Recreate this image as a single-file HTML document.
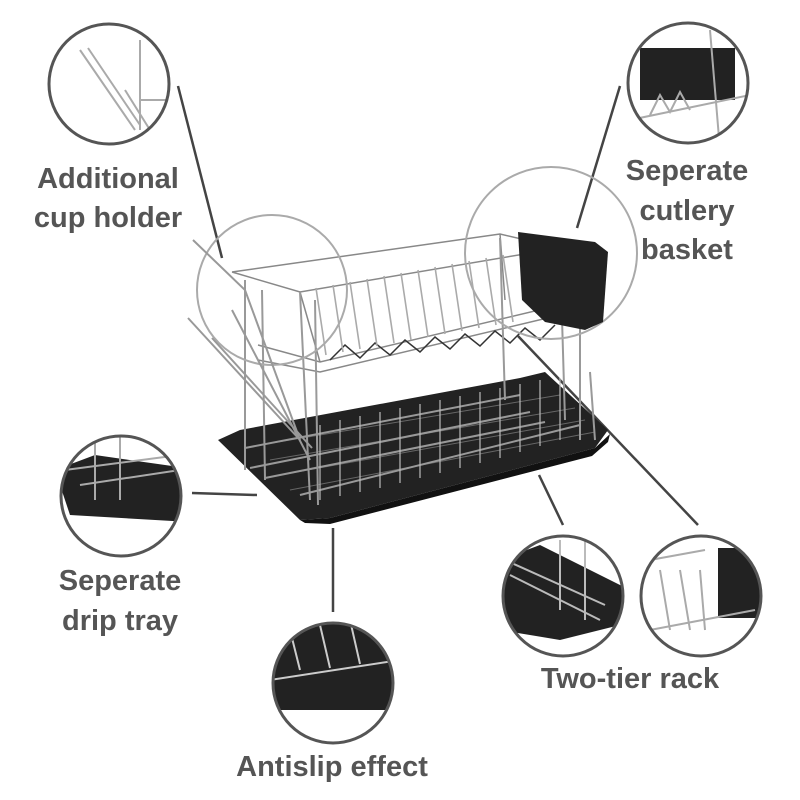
<!DOCTYPE html>
<html><head><style>
html,body{margin:0;padding:0;background:#fff;width:800px;height:800px;overflow:hidden}
svg{display:block}
text{font-family:"Liberation Sans",sans-serif;font-weight:bold;fill:#555;font-size:29px}
</style></head><body>
<svg width="800" height="800" viewBox="0 0 800 800">
<defs>
<clipPath id="c1"><circle cx="109" cy="84" r="59"/></clipPath>
<clipPath id="c2"><circle cx="688" cy="83" r="59"/></clipPath>
<clipPath id="c3"><circle cx="121" cy="496" r="59"/></clipPath>
<clipPath id="c4"><circle cx="333" cy="683" r="59"/></clipPath>
<clipPath id="c5"><circle cx="563" cy="596" r="59"/></clipPath>
<clipPath id="c6"><circle cx="701" cy="596" r="59"/></clipPath>
</defs>
<g stroke="#444" stroke-width="2.5" fill="none">
<line x1="178" y1="86" x2="222" y2="258"/>
<line x1="620" y1="86" x2="577" y2="228"/>
<line x1="192" y1="493" x2="257" y2="495"/>
<line x1="333" y1="528" x2="333" y2="612"/>
<line x1="539" y1="475" x2="563" y2="525"/>
<line x1="518" y1="336" x2="698" y2="525"/>
</g>
<!-- tray -->
<polygon points="218,440 240,430 520,378 545,372 608,430 595,448 330,518 300,520" fill="#222"/>
<polygon points="300,520 330,518 595,448 610,434 608,442 592,456 330,524 305,523" fill="#111"/>
<g stroke="#666" stroke-width="1">
<path d="M260,445 L560,395 M270,460 L575,408 M280,475 L585,420 M290,490 L595,432"/>
</g>
<!-- upper rack -->
<g stroke="#888" stroke-width="1.5" fill="none">
<polyline points="232,272 500,234 560,248 300,292 232,272"/>
<polyline points="258,345 320,362 560,305"/>
<polyline points="258,360 320,372 560,315"/>
<path d="M300,292 L320,362 M500,234 L505,300 M560,248 L560,315"/>
<path d="M330,360 L345,345 L360,358 L375,343 L390,355 L405,340 L420,352 L435,337 L450,349 L465,334 L480,346 L495,331 L510,343 L525,328 L540,340 L555,325" stroke="#333"/>
</g>
<g stroke="#aaa" stroke-width="1.6">
<path d="M316,288 L326,355 M333,285 L343,352 M350,282 L360,349 M367,279 L377,346 M384,276 L394,343 M401,273 L411,340 M418,270 L428,337 M435,267 L445,334 M452,264 L462,331 M469,261 L479,328 M486,258 L496,325 M503,255 L513,322"/>
</g>
<!-- posts and lower wires -->
<g stroke="#999" stroke-width="2" fill="none">
<path d="M245,280 L245,470 M262,290 L265,480 M300,292 L310,500 M315,300 L318,505 M500,238 L505,400 M560,250 L565,420 M580,320 L580,440 M590,372 L595,440"/>
<path d="M250,468 L530,412 M265,478 L545,422 M300,495 L580,425 M245,448 L520,395"/>
<circle cx="272" cy="290" r="75" stroke="#aaa"/>
<circle cx="551" cy="253" r="86" stroke="#aaa"/>
<path d="M193,240 L245,290 L300,440 M188,318 L300,440 M212,338 L312,448 M232,310 L310,460"/>
</g>
<g stroke="#bbb" stroke-width="1.2">
<path d="M320,425 L320,500 M340,420 L340,496 M360,416 L360,492 M380,412 L380,488 M400,408 L400,483 M420,404 L420,478 M440,400 L440,473 M460,396 L460,468 M480,392 L480,463 M500,388 L500,458 M520,384 L520,452 M540,380 L540,446 M560,378 L560,440"/>
</g>
<path d="M518,232 L595,242 L608,252 L603,322 L585,330 L545,322 L522,300 Z" fill="#222"/>
<!-- circle insets -->
<g clip-path="url(#c3)"><polygon points="55,470 95,455 200,470 190,522 70,515" fill="#222"/><path d="M65,470 L180,455 M95,430 L95,500 M120,430 L120,500 M80,485 L180,470" stroke="#aaa" stroke-width="2"/></g>
<g clip-path="url(#c4)"><rect x="270" y="615" width="130" height="95" fill="#222"/><path d="M270,680 L400,660 M290,630 L300,670 M320,625 L330,668 M350,620 L360,664" stroke="#ccc" stroke-width="2"/></g>
<g clip-path="url(#c5)"><polygon points="500,560 540,545 630,590 620,625 560,640 500,630" fill="#222"/><path d="M505,560 L605,605 M510,575 L600,620 M585,535 L585,620 M560,540 L560,610" stroke="#bbb" stroke-width="2"/></g>
<g clip-path="url(#c6)"><rect x="718" y="548" width="50" height="70" fill="#222"/><path d="M650,560 L705,550 M660,570 L670,630 M680,570 L690,630 M700,570 L705,630 M650,630 L755,610" stroke="#aaa" stroke-width="2" fill="none"/></g>
<g clip-path="url(#c2)"><rect x="640" y="48" width="95" height="52" fill="#222"/><path d="M630,120 L750,95 M710,30 L720,150 M650,115 L660,95 L670,112 L680,92 L690,110" stroke="#aaa" stroke-width="2" fill="none"/></g>
<g clip-path="url(#c1)"><path d="M80,50 L135,130 M88,48 L140,125 M125,90 L150,130 M140,40 L140,130 M140,100 L170,100" stroke="#aaa" stroke-width="2" fill="none"/></g>
<g stroke="#555" stroke-width="3" fill="none">
<circle cx="109" cy="84" r="60"/>
<circle cx="688" cy="83" r="60"/>
<circle cx="121" cy="496" r="60"/>
<circle cx="333" cy="683" r="60"/>
<circle cx="563" cy="596" r="60"/>
<circle cx="701" cy="596" r="60"/>
</g>
<text x="108" y="188" text-anchor="middle">Additional</text>
<text x="108" y="227" text-anchor="middle">cup holder</text>
<text x="687" y="180" text-anchor="middle">Seperate</text>
<text x="687" y="220" text-anchor="middle">cutlery</text>
<text x="687" y="259" text-anchor="middle">basket</text>
<text x="120" y="590" text-anchor="middle">Seperate</text>
<text x="120" y="630" text-anchor="middle">drip tray</text>
<text x="332" y="776" text-anchor="middle">Antislip effect</text>
<text x="630" y="688" text-anchor="middle">Two-tier rack</text>
</svg>
</body></html>
